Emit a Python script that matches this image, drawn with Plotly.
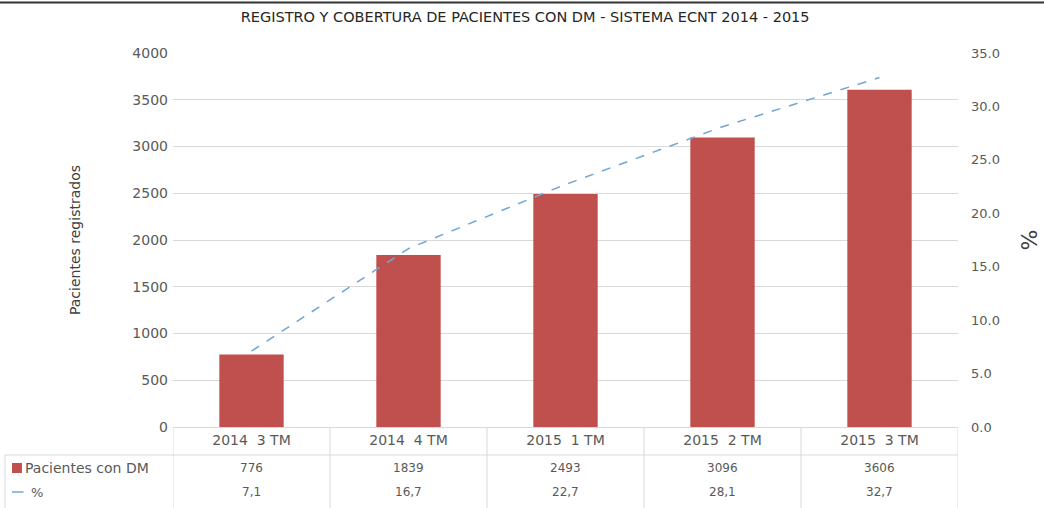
import plotly.graph_objects as go

categories = ["2014  3 TM", "2014  4 TM", "2015  1 TM", "2015  2 TM", "2015  3 TM"]
pacientes = [776, 1839, 2493, 3096, 3606]
porcentaje = [7.1, 16.7, 22.7, 28.1, 32.7]
left_ticks = list(range(0, 4001, 500))
right_ticks = [0, 5, 10, 15, 20, 25, 30, 35]
series_names = ["Pacientes con DM", "%"]

FONT = "DejaVu Sans, Liberation Sans, Arial, sans-serif"
GRAY = "#595959"
LINEC = "#D9D9D9"
BAR_COLOR = "#C0504D"
LINE_COLOR = "#6FA6D6"

fig = go.Figure()
fig.add_trace(go.Bar(
    x=categories, y=pacientes, name=series_names[0],
    marker=dict(color=BAR_COLOR, line=dict(width=0)), width=0.41, showlegend=False,
))
fig.add_trace(go.Scatter(
    x=categories, y=porcentaje, name=series_names[1], yaxis="y2", mode="lines",
    line=dict(color=LINE_COLOR, width=1.5, dash="dash"), showlegend=False,
))

# data table rows (annotations positioned on category axis)
row1_y = -0.1096
row2_y = -0.1738
for c, v in zip(categories, pacientes):
    fig.add_annotation(x=c, y=row1_y, xref="x", yref="paper", text=str(v),
                       yanchor="middle", showarrow=False,
                       font=dict(family=FONT, size=12, color=GRAY))
for c, v in zip(categories, porcentaje):
    fig.add_annotation(x=c, y=row2_y, xref="x", yref="paper",
                       text=f"{v:.1f}".replace(".", ","), yanchor="middle",
                       showarrow=False, font=dict(family=FONT, size=12, color=GRAY))

# table legend column
fig.add_annotation(x=-0.191, y=row1_y, xref="paper", yref="paper", text=series_names[0],
                   xanchor="left", yanchor="middle", showarrow=False,
                   font=dict(family=FONT, size=14, color=GRAY))
fig.add_annotation(x=-0.184, y=row2_y, xref="paper", yref="paper", text=series_names[1],
                   xanchor="left", yanchor="middle", showarrow=False,
                   font=dict(family=FONT, size=13, color=GRAY))

shapes = []
# legend keys
shapes.append(dict(type="rect", xref="paper", yref="paper", x0=-0.2051, x1=-0.1924,
                   y0=row1_y - 0.0134, y1=row1_y + 0.0134,
                   fillcolor=BAR_COLOR, line=dict(width=0)))
shapes.append(dict(type="line", xref="paper", yref="paper", x0=-0.2051, x1=-0.1905,
                   y0=row2_y, y1=row2_y, line=dict(color=LINE_COLOR, width=1.5)))
# table horizontal line (between axis labels and data rows)
shapes.append(dict(type="line", xref="paper", yref="paper", x0=-0.214, x1=1.0,
                   y0=-0.0749, y1=-0.0749, line=dict(color=LINEC, width=1)))
# left border of table
shapes.append(dict(type="line", xref="paper", yref="paper", x0=-0.214, x1=-0.214,
                   y0=-0.0749, y1=-0.23, line=dict(color=LINEC, width=1)))
# vertical separators between categories
n = len(categories)
for i in range(n + 1):
    shapes.append(dict(type="line", xref="x", yref="paper", x0=i - 0.5, x1=i - 0.5,
                       y0=0, y1=-0.23, line=dict(color=LINEC, width=1)))
# dark top frame line
shapes.append(dict(type="line", xref="paper", yref="paper", x0=-0.25, x1=1.15,
                   y0=1.135, y1=1.135, line=dict(color="#333333", width=2)))

fig.update_layout(
    width=1044, height=508,
    margin=dict(l=173, r=86, t=53, b=81, autoexpand=False),
    paper_bgcolor="white", plot_bgcolor="white",
    font=dict(family=FONT, color=GRAY, size=13),
    title=dict(text="REGISTRO Y COBERTURA DE PACIENTES CON DM - SISTEMA ECNT 2014 - 2015",
               x=0.503, xanchor="center", y=0.966, yanchor="middle",
               font=dict(family=FONT, size=14.5, color="#262626")),
    showlegend=False,
    xaxis=dict(type="category", range=[-0.5, n - 0.5], showgrid=False,
               showline=True, linecolor=LINEC, linewidth=1, ticks="",
               tickfont=dict(family=FONT, size=14, color=GRAY)),
    yaxis=dict(range=[0, 4000], tickvals=left_ticks, showgrid=True, gridcolor=LINEC,
               gridwidth=1, zeroline=False, showline=False, ticks="",
               ticklabelstandoff=4,
               tickfont=dict(family=FONT, size=14, color=GRAY),
               title=dict(text="Pacientes registrados", standoff=48,
                          font=dict(family=FONT, size=14, color="#404040"))),
    yaxis2=dict(range=[0, 35], tickvals=right_ticks, tickformat=".1f",
                overlaying="y", side="right", showgrid=False, zeroline=False,
                showline=False, ticks="", ticklabelstandoff=12,
                tickfont=dict(family=FONT, size=13, color=GRAY),
                title=dict(text="%", standoff=22,
                           font=dict(family=FONT, size=22, color="#404040"))),
    shapes=shapes,
)

fig.write_html("out.html", config={"displayModeBar": False},
               post_script="document.body.style.margin='0';")
